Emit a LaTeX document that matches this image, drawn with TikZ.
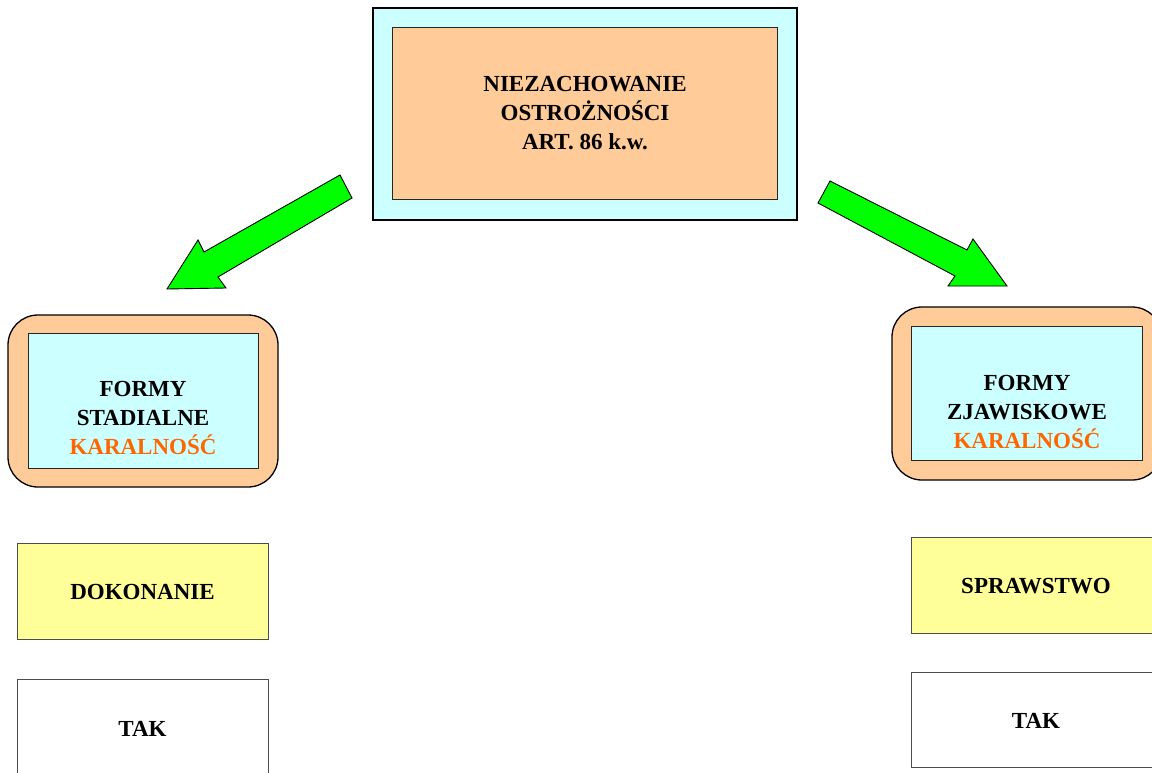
\documentclass[tikz,border=0pt]{standalone}
\usepackage{fontspec}
\setmainfont{Liberation Serif}
\definecolor{cyanbox}{HTML}{CCFFFF}
\definecolor{peach}{HTML}{FFCC99}
\definecolor{yellowbox}{HTML}{FFFF99}
\definecolor{orangetxt}{HTML}{FF6600}
\definecolor{arrowgreen}{HTML}{00FF00}
\begin{document}
\begin{tikzpicture}[x=1pt,y=-1pt,
  boxtext/.style={font=\bfseries\fontsize{23}{29}\selectfont,align=center,text=black},
  outerbox/.style={draw=black,line width=1.3pt},
  innerbox/.style={draw=black!85,line width=1pt},
  plainbox/.style={draw=black!70,line width=1pt},
  blockarrow/.style={draw=black,line width=0.9pt,fill=arrowgreen,line join=miter}]
\useasboundingbox (0,0) rectangle (1152,773);
\clip (0,0) rectangle (1152,773);
% top box
\draw[outerbox,fill=cyanbox] (373,8) rectangle (797,220);
\draw[innerbox,fill=peach] (392,28) rectangle (777,200);
\node[boxtext] (top) at (585,113) {NIEZACHOWANIE\\OSTROŻNOŚCI\\ART. 86 k.w.};
% left form box
\draw[outerbox,fill=peach,rounded corners=30pt] (8,315) rectangle (278,487);
\draw[innerbox,fill=cyanbox] (28,333) rectangle (258,468);
\node[boxtext] (left) at (143,418) {FORMY\\STADIALNE\\\textcolor{orangetxt}{KARALNOŚĆ}};
% right form box
\draw[outerbox,fill=peach,rounded corners=30pt] (892,307) rectangle (1162,480);
\draw[innerbox,fill=cyanbox] (911,326) rectangle (1142,460);
\node[boxtext] (right) at (1027,412) {FORMY\\ZJAWISKOWE\\\textcolor{orangetxt}{KARALNOŚĆ}};
% bottom boxes
\draw[plainbox,fill=yellowbox] (17,543) rectangle (268,639);
\node[boxtext] (dok) at (142.5,592) {DOKONANIE};
\draw[plainbox,fill=white] (17,679) rectangle (268,775);
\node[boxtext] (takl) at (142.5,729) {TAK};
\draw[plainbox,fill=yellowbox] (911,537) rectangle (1162,633);
\node[boxtext] (spr) at (1036,586) {SPRAWSTWO};
\draw[plainbox,fill=white] (911,672) rectangle (1162,767);
\node[boxtext] (takr) at (1036,721) {TAK};
% block arrows
\coordinate (la1) at (340,175); \coordinate (la2) at (352,198);
\coordinate (la3) at (218,277); \coordinate (la4) at (226,288);
\coordinate (latip) at (167,289); \coordinate (la6) at (198,240);
\coordinate (la7) at (204,252);
\draw[blockarrow] (la1) -- (la2) -- (la3) -- (la4) -- (latip) -- (la6) -- (la7) -- cycle;
\coordinate (ra1) at (830,181); \coordinate (ra2) at (967,250);
\coordinate (ra3) at (973,239); \coordinate (ratip) at (1007,286);
\coordinate (ra5) at (948,286); \coordinate (ra6) at (955,276);
\coordinate (ra7) at (818,203);
\draw[blockarrow] (ra1) -- (ra2) -- (ra3) -- (ratip) -- (ra5) -- (ra6) -- (ra7) -- cycle;
\end{tikzpicture}
\end{document}
